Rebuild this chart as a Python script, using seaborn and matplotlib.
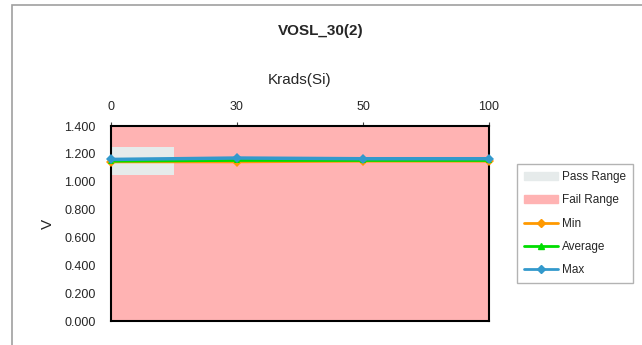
import pandas as pd
import matplotlib.pyplot as plt
import seaborn as sns
from matplotlib.patches import Rectangle, Patch
from matplotlib.lines import Line2D

# dados
doses = ['0', '30', '50', '100']
v_min = [1.145, 1.145, 1.150, 1.150]
v_avg = [1.150, 1.155, 1.155, 1.155]
v_max = [1.160, 1.170, 1.165, 1.165]
pass_lo, pass_hi = 1.05, 1.25
fail_lo, fail_hi = 0.0, 1.4

sns.set_style('white')
plt.rcParams['font.family'] = ['Liberation Sans', 'DejaVu Sans']

df = pd.DataFrame({'pos': range(len(doses)), 'dose': doses,
                   'Min': v_min, 'Average': v_avg, 'Max': v_max})

fig = plt.figure(figsize=(6.42, 3.45), dpi=100)
fig.patches.append(Rectangle((12 / 642, -0.1), 1.0, 1 - 5 / 345 + 0.1,
                             transform=fig.transFigure, fill=False,
                             edgecolor='#A0A0A0', linewidth=1.2))
ax = fig.add_axes([111 / 642, 24 / 345, 378 / 642, 195 / 345])

# faixas
ax.axhspan(fail_lo, fail_hi, color='#FFB3B3', zorder=0)
ax.fill_between([0, 0.5], pass_lo, pass_hi, color='#E6EBEB', zorder=1, linewidth=0)

cores = {'Min': '#FF9900', 'Average': '#00DD00', 'Max': '#3399CC'}
marcadores = {'Min': 'D', 'Average': '^', 'Max': 'D'}
for s in ['Min', 'Average', 'Max']:
    sns.lineplot(data=df, x='pos', y=s, ax=ax, color=cores[s], marker=marcadores[s],
                 markersize=5, markeredgewidth=0, linewidth=2.5, zorder=3,
                 clip_on=False)

ax.set_xlim(0, 3)
ax.set_ylim(0, 1.4)
ax.set_yticks([0, 0.2, 0.4, 0.6, 0.8, 1.0, 1.2, 1.4])
ax.set_yticklabels(['%.3f' % v for v in ax.get_yticks()], fontsize=9)
ax.set_xticks(df['pos'])
ax.set_xticklabels(doses, fontsize=9)
ax.xaxis.tick_top()
ax.xaxis.set_label_position('top')
ax.tick_params(axis='both', length=3, width=0.8, color='#404040', pad=8, direction='out')
ax.tick_params(axis='x', pad=6.5)
ax.set_xlabel('Krads(Si)', fontsize=11, labelpad=12)
ax.set_ylabel('V', fontsize=11, labelpad=7)
for sp in ax.spines.values():
    sp.set_color('black')
    sp.set_linewidth(1.5)

fig.text(0.5, 1 - 31 / 345, 'VOSL_30(2)', fontsize=11, fontweight='bold',
         ha='center', va='center')

handles = [Patch(color='#E6EBEB', label='Pass Range'),
           Patch(color='#FFB3B3', label='Fail Range'),
           Line2D([], [], color=cores['Min'], marker='D', markersize=4, lw=2, label='Min'),
           Line2D([], [], color=cores['Average'], marker='^', markersize=5, lw=2, label='Average'),
           Line2D([], [], color=cores['Max'], marker='D', markersize=4, lw=2, label='Max')]
leg = fig.legend(handles=handles, loc='upper left', bbox_to_anchor=(517 / 642, 1 - 164 / 345),
                 fontsize=8.5, frameon=True, fancybox=False, handlelength=2.9,
                 handleheight=0.6, labelspacing=0.95, handletextpad=0.3,
                 borderpad=0.6, borderaxespad=0)
leg.get_frame().set_edgecolor('#A0A0A0')
leg.get_frame().set_linewidth(1)

fig.savefig('out.png', dpi=100)
